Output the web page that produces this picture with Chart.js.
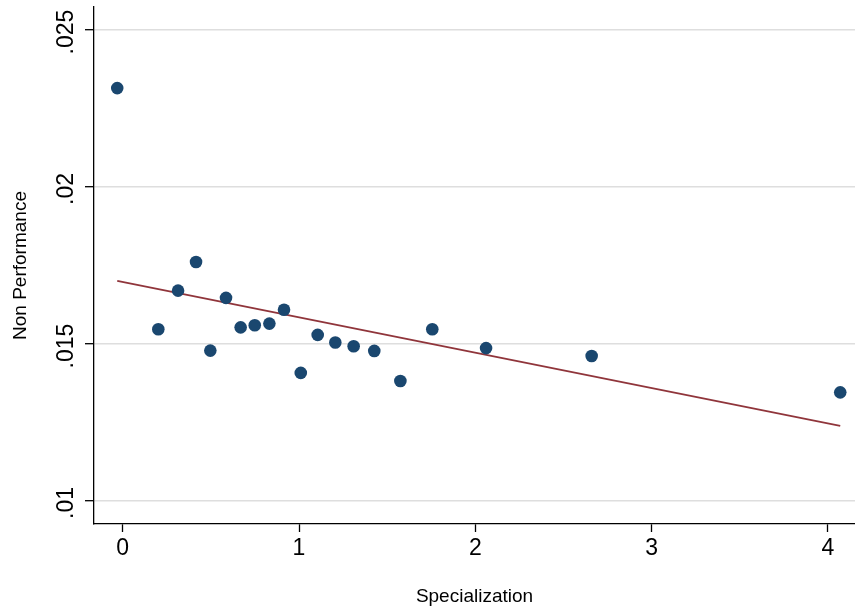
<!DOCTYPE html>
<html>
<head>
<meta charset="utf-8">
<script src="https://cdn.jsdelivr.net/npm/chart.js@4"></script>
<style>
  body { margin: 0; background: #fff; }
  #wrap { width: 855px; height: 612px; }
</style>
</head>
<body>
<div id="wrap"><canvas id="chart" width="855" height="612"></canvas></div>
<script>
// values
const specialization = [-0.031, 0.202, 0.314, 0.416, 0.497, 0.586, 0.669, 0.749, 0.832, 0.915,
                        1.010, 1.106, 1.206, 1.310, 1.427, 1.575, 1.756, 2.061, 2.660, 4.070];
const nonPerformance = [0.02315, 0.01547, 0.01670, 0.01761, 0.01479, 0.01647, 0.01553, 0.01560, 0.01565, 0.01609,
                        0.01408, 0.01529, 0.01505, 0.01493, 0.01478, 0.01382, 0.01547, 0.01487, 0.01462, 0.01346];
// fitted line end points
const fitX = [-0.031, 4.070];
const fitY = [0.01701, 0.01239];

const xTicks = [0, 1, 2, 3, 4];
const yTicks = [0.01, 0.015, 0.02, 0.025];
const yTickLabels = ['.01', '.015', '.02', '.025'];

const FONT = "'Liberation Sans', Arial, Helvetica, sans-serif";

// y tick labels in Stata are rotated, draw them by hand
const rotatedYLabels = {
    id: 'rotatedYLabels',
    afterDraw(chart) {
        const ctx = chart.ctx;
        const y = chart.scales.y;
        ctx.save();
        ctx.fillStyle = '#000';
        ctx.font = '23px ' + FONT;
        ctx.textAlign = 'center';
        ctx.textBaseline = 'middle';
        yTicks.forEach((v, i) => {
            const py = y.getPixelForValue(v);
            ctx.save();
            ctx.translate(67, py + 2);
            ctx.rotate(-Math.PI / 2);
            ctx.fillText(yTickLabels[i], 0, 0);
            ctx.restore();
        });
        ctx.restore();
    }
};

new Chart(document.getElementById('chart'), {
    type: 'scatter',
    data: {
        datasets: [
            {
                label: 'Non Performance',
                data: specialization.map((x, i) => ({ x: x, y: nonPerformance[i] })),
                backgroundColor: '#1a476f',
                borderWidth: 0,
                pointRadius: 6.3,
                order: 1
            },
            {
                type: 'line',
                label: 'Fitted values',
                data: fitX.map((x, i) => ({ x: x, y: fitY[i] })),
                borderColor: '#90353b',
                borderWidth: 1.8,
                pointRadius: 0,
                fill: false,
                order: 2
            }
        ]
    },
    options: {
        responsive: false,
        animation: false,
        layout: { autoPadding: false, padding: { top: 7, right: 0, left: 0, bottom: 0 } },
        plugins: { legend: { display: false }, tooltip: { enabled: false } },
        scales: {
            x: {
                type: 'linear',
                min: -0.1628,
                max: 4.1537,
                afterFit: s => { s.height = 88; s.paddingLeft = 0; s.paddingRight = 0; },
                afterBuildTicks: s => { s.ticks = xTicks.map(v => ({ value: v })); },
                grid: { display: true, drawOnChartArea: false, drawTicks: true, tickLength: 8, tickColor: '#000', tickWidth: 1.3 },
                border: { display: true, color: '#000', width: 1.3 },
                ticks: {
                    color: '#000',
                    font: { family: FONT, size: 23 },
                    padding: 3,
                    maxRotation: 0,
                    callback: v => String(v)
                },
                title: {
                    display: true,
                    text: 'Specialization',
                    color: '#000',
                    font: { family: FONT, size: 19 },
                    padding: { top: 0, bottom: 4 }
                }
            },
            y: {
                type: 'linear',
                min: 0.009268,
                max: 0.025733,
                afterFit: s => { s.width = 94; s.paddingTop = 0; s.paddingBottom = 0; },
                afterBuildTicks: s => { s.ticks = yTicks.map(v => ({ value: v })); },
                grid: { color: '#dedede', lineWidth: 1.4, drawTicks: true, tickLength: 9, tickColor: '#000', tickWidth: 1.3 },
                border: { display: true, color: '#000', width: 1.3 },
                ticks: { display: false },
                title: {
                    display: true,
                    text: 'Non Performance',
                    color: '#000',
                    font: { family: FONT, size: 19 },
                    padding: { top: 9, bottom: 0 }
                }
            }
        }
    },
    plugins: [rotatedYLabels]
});
</script>
</body>
</html>
